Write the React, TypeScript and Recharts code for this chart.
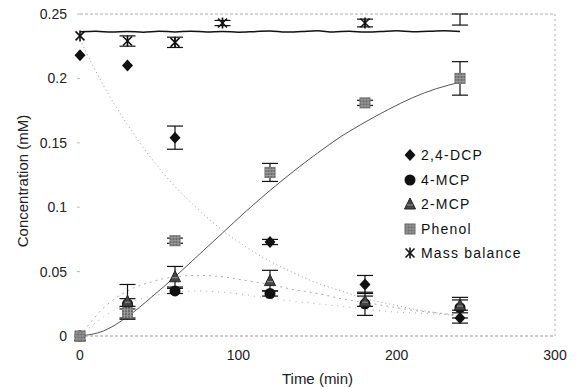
import React from 'react';
import { ComposedChart, Line, Scatter, ErrorBar, XAxis, YAxis, ReferenceLine, Legend } from 'recharts';

// measured samples (min, mM)
const sampleTimes = [0, 30, 60, 120, 180, 240];
const dcpValues = [0.218, 0.21, 0.154, 0.073, 0.04, 0.014];
const dcpErrors = [0, 0, 0.009, 0.002, 0.007, 0.004];
const mcp4Values = [0, 0.025, 0.035, 0.033, 0.025, 0.022];
const mcp4Errors = [0, 0.004, 0.002, 0.002, 0.009, 0.008];
const mcp2Values = [0, 0.027, 0.046, 0.043, 0.027, 0.024];
const mcp2Errors = [0, 0.013, 0.008, 0.008, 0.004, 0.004];
const phenolValues = [0, 0.018, 0.074, 0.127, 0.181, 0.2];
const phenolErrors = [0, 0.005, 0.002, 0.007, 0.002, 0.013];

const massTimes = [0, 30, 60, 90, 180];
const massValues = [0.233, 0.229, 0.228, 0.243, 0.243];
const massErrors = [0, 0.004, 0.004, 0.002, 0.003];
// last mass balance sample: only its error bar shows
const massLastTime = [240];
const massLastValue = [0.2457];
const massLastError = [0.0043];

// model curves
const fitTimes = [0, 15, 30, 45, 60, 75, 90, 105, 120, 135, 150, 165, 180, 195, 210, 225, 240];
const dcpFit = [0.23, 0.194, 0.164, 0.138, 0.116, 0.098, 0.082, 0.069, 0.058, 0.049, 0.041, 0.035, 0.029, 0.025, 0.021, 0.018, 0.015];
const mcp2Fit = [0, 0.022, 0.035, 0.042, 0.046, 0.047, 0.046, 0.043, 0.04, 0.036, 0.033, 0.029, 0.026, 0.023, 0.02, 0.018, 0.016];
const mcp4Fit = [0, 0.015, 0.025, 0.031, 0.034, 0.035, 0.034, 0.032, 0.029, 0.027, 0.025, 0.023, 0.021, 0.019, 0.018, 0.017, 0.016];
const phenolFit = [0, 0.004, 0.015, 0.03, 0.046, 0.063, 0.08, 0.097, 0.113, 0.128, 0.142, 0.155, 0.166, 0.176, 0.185, 0.192, 0.197];

const massLineTimes = [0, 10, 20, 30, 40, 50, 60, 70, 80, 90, 100, 110, 120, 130, 140, 150, 160, 170, 180, 190, 200, 210, 220, 230, 240];
const massLineValues = [0.2362, 0.2366, 0.2360, 0.2365, 0.2359, 0.2366, 0.2361, 0.2367, 0.2360, 0.2365, 0.2359, 0.2363, 0.2368, 0.2360, 0.2364, 0.2369, 0.2361, 0.2366, 0.2360, 0.2364, 0.2369, 0.2362, 0.2366, 0.2369, 0.2365];

const xTicks = [0, 100, 200, 300];
const yTicks = [0, 0.05, 0.1, 0.15, 0.2, 0.25];

const toPoints = (xs: number[], ys: number[], errs?: number[]) =>
  xs.map((x, i) => ({ x, y: ys[i], err: errs ? errs[i] : 0 }));

const font = '"Liberation Sans", Arial, sans-serif';

const Diamond = ({ cx, cy }: any) => (
  <polygon points={`${cx},${cy - 6} ${cx + 5.5},${cy} ${cx},${cy + 6} ${cx - 5.5},${cy}`} fill="#111" />
);
const Dot = ({ cx, cy }: any) => <circle cx={cx} cy={cy} r={5.5} fill="#111" />;
const Triangle = ({ cx, cy }: any) => (
  <g>
    <polygon points={`${cx},${cy - 6} ${cx + 5.5},${cy + 5} ${cx - 5.5},${cy + 5}`} fill="#444" stroke="#222" strokeWidth={1} />
    <line x1={cx - 3} y1={cy + 1} x2={cx + 3} y2={cy + 1} stroke="#aaa" strokeWidth={0.8} />
  </g>
);
const Square = ({ cx, cy }: any) => (
  <g>
    <rect x={cx - 5.5} y={cy - 5.5} width={11} height={11} fill="#6a6a6a" />
    {[-2.5, 0.5, 3.5].map((d) => (
      <g key={d}>
        <line x1={cx - 5.5} y1={cy + d - 0.5} x2={cx + 5.5} y2={cy + d - 0.5} stroke="#aaa" strokeWidth={0.7} />
        <line x1={cx + d - 0.5} y1={cy - 5.5} x2={cx + d - 0.5} y2={cy + 5.5} stroke="#aaa" strokeWidth={0.7} />
      </g>
    ))}
  </g>
);
const Star = ({ cx, cy }: any) => (
  <g stroke="#111" strokeWidth={1.6}>
    <line x1={cx - 4.5} y1={cy - 4.5} x2={cx + 4.5} y2={cy + 4.5} />
    <line x1={cx + 4.5} y1={cy - 4.5} x2={cx - 4.5} y2={cy + 4.5} />
    <line x1={cx} y1={cy - 5.5} x2={cx} y2={cy + 5.5} />
  </g>
);
const Nothing = () => <g />;

const legendItems = [
  { label: '2,4-DCP', Icon: Diamond },
  { label: '4-MCP', Icon: Dot },
  { label: '2-MCP', Icon: Triangle },
  { label: 'Phenol', Icon: Square },
  { label: 'Mass balance', Icon: Star },
];

const renderLegend = () => (
  <div style={{ fontFamily: font, fontSize: 14, letterSpacing: 1.2, color: '#111' }}>
    {legendItems.map(({ label, Icon }) => (
      <div key={label} style={{ display: 'flex', alignItems: 'center', height: 24.5 }}>
        <svg width={14} height={14} style={{ marginRight: 4 }}>
          <Icon cx={7} cy={7} />
        </svg>
        <span>{label}</span>
      </div>
    ))}
  </div>
);

const errProps = { dataKey: 'err', direction: 'y' as const, width: 8, stroke: '#111', strokeWidth: 1.2 };

export default function App() {
  return (
    <div style={{ position: 'absolute', left: 0, top: 0, background: '#fff' }}>
      <ComposedChart width={577} height={387} margin={{ top: 14, right: 22, bottom: 0, left: 20 }}>
        <XAxis
          type="number"
          dataKey="x"
          domain={[0, 300]}
          ticks={xTicks}
          axisLine={{ stroke: '#999', strokeDasharray: '3 2' }}
          tickLine={false}
          tickSize={6}
          tickMargin={8}
          height={51}
          tick={{ fontSize: 14, fill: '#222', fontFamily: font }}
          label={{ value: 'Time (min)', position: 'insideBottom', offset: 3, fontSize: 15, fill: '#222', fontFamily: font }}
        />
        <YAxis
          type="number"
          domain={[0, 0.25]}
          ticks={yTicks}
          axisLine={false}
          tickLine={{ stroke: '#bbb' }}
          tickSize={3}
          tickMargin={10}
          width={60}
          tick={{ fontSize: 14, fill: '#222', fontFamily: font }}
          label={({ viewBox }: any) => (
            <text
              x={viewBox.x + 2}
              y={viewBox.y + viewBox.height / 2 + 6}
              transform={`rotate(-90 ${viewBox.x + 2} ${viewBox.y + viewBox.height / 2 + 6})`}
              textAnchor="middle"
              dominantBaseline="central"
              fontSize={15}
              fill="#222"
              fontFamily={font}
            >
              Concentration (mM)
            </text>
          )}
        />
        <ReferenceLine y={0.25} stroke="#aaa" strokeDasharray="3 2" />
        <ReferenceLine x={300} stroke="#aaa" strokeDasharray="2 3" />

        <Line data={toPoints(fitTimes, dcpFit)} dataKey="y" type="monotone" stroke="#999" strokeWidth={1} strokeDasharray="1 3" dot={false} isAnimationActive={false} legendType="none" />
        <Line data={toPoints(fitTimes, mcp2Fit)} dataKey="y" type="monotone" stroke="#aaa" strokeWidth={1} strokeDasharray="2 4" dot={false} isAnimationActive={false} legendType="none" />
        <Line data={toPoints(fitTimes, mcp4Fit)} dataKey="y" type="monotone" stroke="#aaa" strokeWidth={1} strokeDasharray="1 5" dot={false} isAnimationActive={false} legendType="none" />
        <Line data={toPoints(fitTimes, phenolFit)} dataKey="y" type="monotone" stroke="#555" strokeWidth={1} dot={false} isAnimationActive={false} legendType="none" />
        <Line data={toPoints(massLineTimes, massLineValues)} dataKey="y" type="monotone" stroke="#111" strokeWidth={1.5} dot={false} isAnimationActive={false} legendType="none" />

        <Scatter name="4-MCP" data={toPoints(sampleTimes, mcp4Values, mcp4Errors)} dataKey="y" shape={<Dot />} isAnimationActive={false}>
          <ErrorBar {...errProps} />
        </Scatter>
        <Scatter name="2-MCP" data={toPoints(sampleTimes, mcp2Values, mcp2Errors)} dataKey="y" shape={<Triangle />} isAnimationActive={false}>
          <ErrorBar {...errProps} />
        </Scatter>
        <Scatter name="Phenol" data={toPoints(sampleTimes, phenolValues, phenolErrors)} dataKey="y" shape={<Square />} isAnimationActive={false}>
          <ErrorBar {...errProps} />
        </Scatter>
        <Scatter name="2,4-DCP" data={toPoints(sampleTimes, dcpValues, dcpErrors)} dataKey="y" shape={<Diamond />} isAnimationActive={false}>
          <ErrorBar {...errProps} />
        </Scatter>
        <Scatter name="Mass balance" data={toPoints(massTimes, massValues, massErrors)} dataKey="y" shape={<Star />} isAnimationActive={false}>
          <ErrorBar {...errProps} />
        </Scatter>
        <Scatter data={toPoints(massLastTime, massLastValue, massLastError)} dataKey="y" shape={<Nothing />} isAnimationActive={false} legendType="none">
          <ErrorBar {...errProps} />
        </Scatter>

        <Legend
          layout="vertical"
          align="center"
          verticalAlign="middle"
          content={renderLegend}
          wrapperStyle={{ position: 'absolute', left: 403, top: 143, width: 160 }}
        />
      </ComposedChart>
    </div>
  );
}
